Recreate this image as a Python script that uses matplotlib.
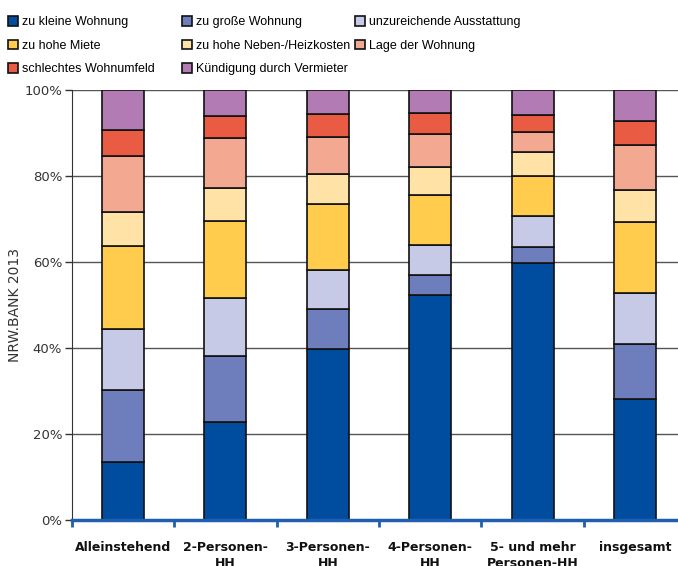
import numpy as np
import matplotlib.pyplot as plt
from matplotlib.patches import Patch

categories = ["Alleinstehend", "2-Personen-\nHH", "3-Personen-\nHH", "4-Personen-\nHH",
              "5- und mehr\nPersonen-HH", "insgesamt"]

series = ["zu kleine Wohnung", "zu große Wohnung", "unzureichende Ausstattung",
          "zu hohe Miete", "zu hohe Neben-/Heizkosten", "Lage der Wohnung",
          "schlechtes Wohnumfeld", "Kündigung durch Vermieter"]

# shares in percent, one list per reason, in category order
zu_klein      = [13.5, 22.8, 39.9, 52.3, 59.8, 28.1]
zu_gross      = [16.7, 15.4,  9.3,  4.6,  3.8, 12.8]
ausstattung   = [14.2, 13.4,  8.9,  7.1,  7.2, 11.8]
miete         = [19.4, 17.9, 15.4, 11.6,  9.2, 16.6]
nebenkosten   = [ 7.9,  7.7,  6.9,  6.5,  5.7,  7.4]
lage          = [13.0, 11.7,  8.7,  7.6,  4.5, 10.6]
wohnumfeld    = [ 6.0,  5.1,  5.3,  5.0,  4.1,  5.5]
kuendigung    = [ 9.3,  6.0,  5.6,  5.3,  5.7,  7.2]

values = [zu_klein, zu_gross, ausstattung, miete, nebenkosten, lage, wohnumfeld, kuendigung]
colors = ["#004c9f", "#6e7dbb", "#c6cae6", "#ffcc4d", "#ffe2a6", "#f2a891", "#e95b43", "#b27bb3"]

fig = plt.figure(figsize=(6.78, 5.66), dpi=100)
ax = fig.add_axes([0.106, 0.081, 0.894, 0.760])

x = np.arange(len(categories))
bottom = np.zeros(len(categories))
for vals, col in zip(values, colors):
    ax.bar(x, vals, 0.41, bottom=bottom, color=col, edgecolor="#111111", linewidth=1.2, zorder=3)
    bottom += np.array(vals)

ax.set_ylim(0, 100)
ax.set_xlim(-0.5, 5.42)
ax.set_yticks(np.arange(0, 101, 20))
ax.set_yticklabels([f"{v}%" for v in range(0, 101, 20)], fontsize=9.5, color="#333333")
ax.yaxis.grid(True, color="#555555", linewidth=1.0, zorder=0)
ax.tick_params(axis="y", length=5, color="#333333", width=1, pad=2)

ax.set_xticks(x)
ax.set_xticklabels(categories, fontsize=9, fontweight="bold", color="#111111", linespacing=1.3)
ax.set_xticks(np.arange(-0.5, 5.0, 1), minor=True)
ax.tick_params(axis="x", which="major", length=0, pad=15)
ax.tick_params(axis="x", which="minor", length=5, width=2, color="#1f5fae", direction="out")

for s in ["top", "right"]:
    ax.spines[s].set_visible(False)
ax.spines["left"].set_color("#333333")
ax.spines["bottom"].set_color("#1f5fae")
ax.spines["bottom"].set_linewidth(2.5)
ax.spines["bottom"].set_zorder(4)

ax.set_ylabel("NRW.BANK 2013", fontsize=10, color="#333333")
ax.yaxis.set_label_coords(-0.094, 0.5)
ax.yaxis.label.set_verticalalignment("center")

# one legend per column so each column starts at a fixed x
col_x = [8, 182, 355]
columns = [[0, 3, 6], [1, 4, 7], [2, 5]]
for cx, idx in zip(col_x, columns):
    handles = [Patch(facecolor=colors[i], edgecolor="#111111", linewidth=1.2, label=series[i]) for i in idx]
    fig.legend(handles=handles, loc="upper left", bbox_to_anchor=(cx / 678, 1 - 16 / 566),
               frameon=False, prop={"family": "Liberation Sans", "size": 9},
               handlelength=0.8, handleheight=0.8, handletextpad=0.3,
               labelspacing=0.92, borderpad=0, borderaxespad=0)

fig.savefig("out.png", dpi=100)
